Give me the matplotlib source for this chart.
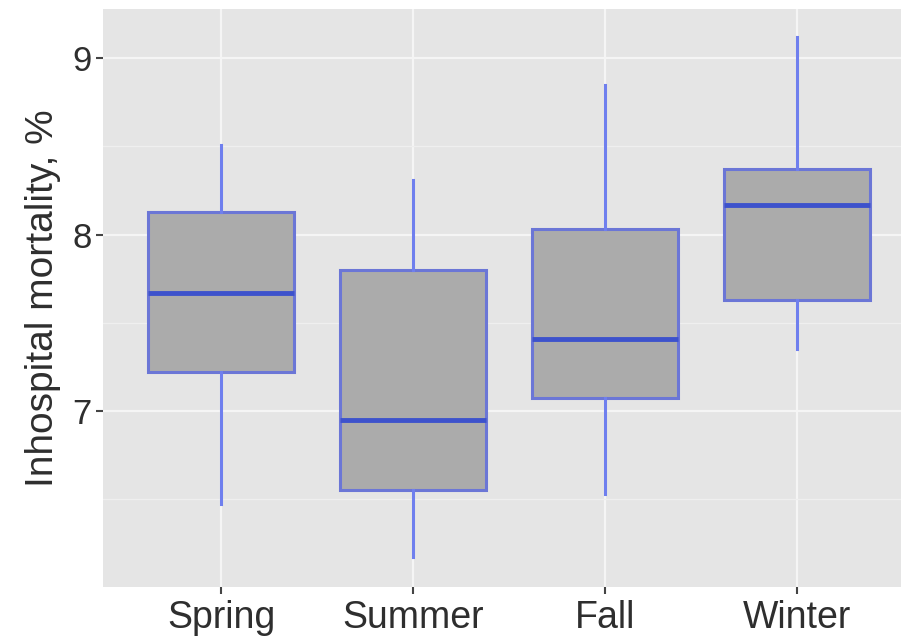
import numpy as np
import matplotlib.pyplot as plt

# === Values ===
seasons = ['Spring', 'Summer', 'Fall', 'Winter']
whisker_low = [6.47, 6.17, 6.53, 7.35]
q1 = [7.22, 6.55, 7.07, 7.63]
median = [7.67, 6.95, 7.41, 8.17]
q3 = [8.13, 7.80, 8.03, 8.37]
whisker_high = [8.51, 8.31, 8.85, 9.12]

plt.rcParams['font.family'] = ['Liberation Sans', 'DejaVu Sans']

fig = plt.figure(figsize=(9.01, 6.42), dpi=100)
ax = fig.add_axes([103 / 901, 55 / 642, 798 / 901, 578 / 642])
ax.set_facecolor('#e5e5e5')

stats = []
for i, s in enumerate(seasons):
    stats.append({'label': s, 'whislo': whisker_low[i], 'q1': q1[i], 'med': median[i],
                  'q3': q3[i], 'whishi': whisker_high[i], 'fliers': []})

pos = np.arange(1, len(seasons) + 1)
ax.bxp(stats, positions=pos, widths=0.76, patch_artist=True, showcaps=False,
       boxprops=dict(facecolor='#ababab', edgecolor='#6b76d6', linewidth=2.2),
       medianprops=dict(color='#3d52cc', linewidth=3.5),
       whiskerprops=dict(color='#6f7fee', linewidth=2.2), zorder=3)

ax.set_xlim(0.385, 4.54)
ax.set_ylim(6.0, 9.28)
ax.set_yticks([7, 8, 9])
ax.set_yticks([6.5, 7.5, 8.5], minor=True)
ax.grid(which='major', color='#f5f5f5', linewidth=1.6, zorder=0)
ax.grid(which='minor', axis='y', color='#efefef', linewidth=0.9, zorder=0)
ax.set_axisbelow(True)
for sp in ax.spines.values():
    sp.set_visible(False)

ax.tick_params(axis='both', which='major', length=5, width=1.5, color='#444444',
               labelcolor='#2e2e2e', labelsize=25, pad=3)
ax.tick_params(axis='x', labelsize=27, pad=4)
ax.tick_params(which='minor', length=0)
ax.set_ylabel('Inhospital mortality, %', fontsize=28, color='#2e2e2e', labelpad=8)

fig.savefig('out.png', dpi=100)
